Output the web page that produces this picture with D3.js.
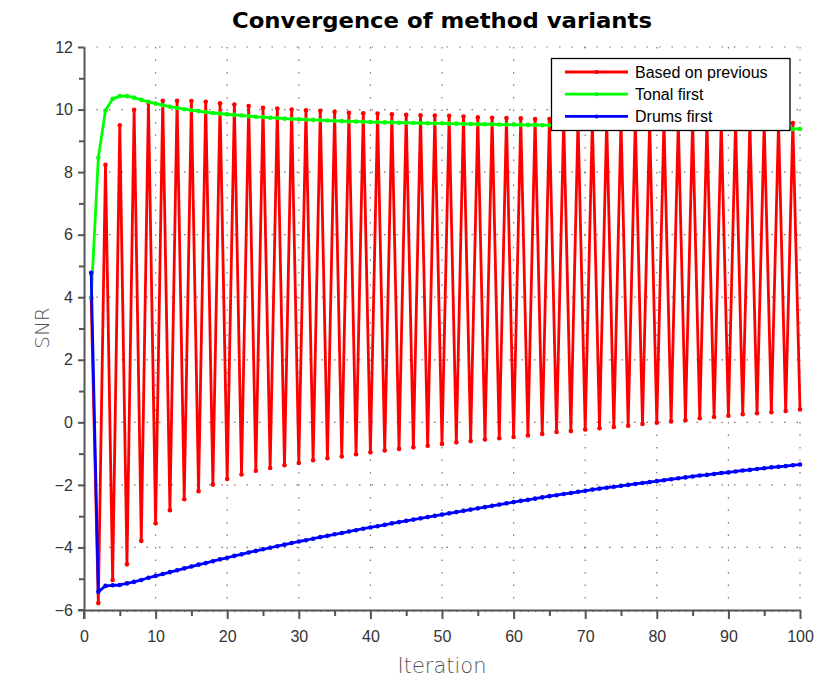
<!DOCTYPE html>
<html><head><meta charset="utf-8">
<script src="https://cdn.jsdelivr.net/npm/d3@7"></script>
<style>
body{margin:0;background:#fff;}
svg{display:block;}
</style></head>
<body>
<svg id="chart" width="818" height="682"></svg>
<script>
const iterations = d3.range(1, 101);
const seriesNames = ["Based on previous", "Tonal first", "Drums first"];
const seriesColors = ["#ff0000", "#00ff00", "#0000ff"];
const basedOnPrevious = [
 3.98,-5.78,8.23,-5.04,9.50,-4.54,9.99,-3.79,10.21,-3.23,
 10.28,-2.81,10.28,-2.46,10.27,-2.20,10.25,-1.99,10.20,-1.81,
 10.16,-1.67,10.11,-1.55,10.06,-1.46,10.03,-1.37,10.00,-1.30,
 9.98,-1.21,9.96,-1.15,9.93,-1.09,9.90,-1.02,9.88,-0.96,
 9.87,-0.90,9.85,-0.85,9.83,-0.80,9.82,-0.75,9.81,-0.69,
 9.80,-0.64,9.78,-0.60,9.75,-0.55,9.74,-0.51,9.73,-0.47,
 9.72,-0.42,9.70,-0.37,9.70,-0.31,9.69,-0.28,9.68,-0.23,
 9.67,-0.19,9.66,-0.15,9.65,-0.11,9.64,-0.05,9.63,-0.01,
 9.63,0.03,9.62,0.07,9.61,0.13,9.61,0.17,9.60,0.21,
 9.60,0.26,9.59,0.29,9.58,0.32,9.58,0.36,9.57,0.41];
const tonalFirst = [
 3.98,8.46,9.97,10.34,10.43,10.43,10.38,10.31,10.25,10.19,
 10.14,10.09,10.05,10.01,9.98,9.95,9.92,9.89,9.87,9.85,
 9.83,9.81,9.79,9.77,9.76,9.74,9.73,9.71,9.70,9.69,
 9.68,9.67,9.66,9.65,9.64,9.63,9.62,9.62,9.61,9.60,
 9.60,9.59,9.59,9.58,9.58,9.57,9.57,9.56,9.56,9.56,
 9.55,9.55,9.54,9.54,9.53,9.53,9.53,9.52,9.52,9.52,
 9.51,9.51,9.51,9.50,9.50,9.50,9.49,9.49,9.49,9.48,
 9.48,9.48,9.47,9.47,9.47,9.46,9.46,9.46,9.45,9.45,
 9.45,9.44,9.44,9.44,9.43,9.43,9.43,9.42,9.42,9.42,
 9.41,9.41,9.41,9.40,9.40,9.40,9.39,9.39,9.38,9.38];
const drumsFirst = [
 4.78,-5.42,-5.23,-5.21,-5.20,-5.15,-5.10,-5.04,-4.97,-4.91,
 -4.85,-4.79,-4.73,-4.67,-4.61,-4.55,-4.50,-4.44,-4.38,-4.33,
 -4.27,-4.22,-4.16,-4.11,-4.06,-4.01,-3.96,-3.91,-3.86,-3.81,
 -3.77,-3.72,-3.67,-3.63,-3.58,-3.54,-3.49,-3.45,-3.40,-3.36,
 -3.32,-3.28,-3.23,-3.19,-3.15,-3.11,-3.07,-3.03,-2.99,-2.95,
 -2.91,-2.87,-2.83,-2.79,-2.75,-2.71,-2.67,-2.63,-2.59,-2.55,
 -2.51,-2.48,-2.44,-2.40,-2.36,-2.33,-2.29,-2.26,-2.22,-2.19,
 -2.15,-2.12,-2.09,-2.06,-2.03,-2.00,-1.97,-1.94,-1.91,-1.88,
 -1.85,-1.82,-1.79,-1.76,-1.73,-1.70,-1.68,-1.65,-1.62,-1.60,
 -1.57,-1.54,-1.52,-1.49,-1.47,-1.44,-1.42,-1.40,-1.37,-1.35];
const xTicks = [0,10,20,30,40,50,60,70,80,90,100];
const yTicks = [-6,-4,-2,0,2,4,6,8,10,12];
const titleText = "Convergence of method variants";
const xLabel = "Iteration";
const yLabel = "SNR";

(function () {
const svg = d3.select("#chart");
const pLeft = 84, pRight = 800, pTop = 47, pBottom = 610;
const x = d3.scaleLinear().domain([0, 100]).range([pLeft, pRight]);
const y = d3.scaleLinear().domain([-6, 12]).range([pBottom, pTop]);
const axisColor = "#555";
const tickFont = "'Liberation Sans', Arial, sans-serif";

// grid
const grid = svg.append("g");
grid.selectAll(".gy").data(yTicks.filter(d => d > -6)).enter().append("line")
  .attr("x1", pLeft).attr("x2", pRight)
  .attr("y1", d => y(d)).attr("y2", d => y(d))
  .attr("stroke", "#777").attr("stroke-width", 1.2)
  .attr("stroke-dasharray", "1.5,11");
grid.selectAll(".gx").data(xTicks.filter(d => d > 0)).enter().append("line")
  .attr("x1", d => x(d)).attr("x2", d => x(d))
  .attr("y1", pTop).attr("y2", pBottom)
  .attr("stroke", "#777").attr("stroke-width", 1.2)
  .attr("stroke-dasharray", "1.5,11");

// axes
const xAxis = d3.axisBottom(x).tickValues(xTicks).tickSize(9).tickSizeOuter(0).tickPadding(12);
const gx = svg.append("g").attr("transform", `translate(0,${pBottom})`).call(xAxis);
const xMinor = d3.axisBottom(x).tickValues(d3.range(5, 100, 10)).tickSize(6).tickFormat("");
const gxm = svg.append("g").attr("transform", `translate(0,${pBottom})`).call(xMinor);
const xMinor2 = d3.axisBottom(x).tickValues(d3.range(1, 100)).tickSize(2).tickFormat("");
const gxm2 = svg.append("g").attr("transform", `translate(0,${pBottom})`).call(xMinor2);
const yAxis = d3.axisLeft(y).tickValues(yTicks).tickSize(6).tickSizeOuter(0).tickPadding(5);
const gy = svg.append("g").attr("transform", `translate(${pLeft},0)`).call(yAxis);
const yMinor = d3.axisLeft(y).tickValues(d3.range(-5, 12, 2)).tickSize(5).tickFormat("");
const gym = svg.append("g").attr("transform", `translate(${pLeft},0)`).call(yMinor);
[gxm, gxm2, gym].forEach(g => g.select(".domain").remove());
[gx, gy, gxm, gxm2, gym].forEach(g => {
  g.selectAll("line").attr("stroke", axisColor).attr("stroke-width", 2);
  g.select(".domain").attr("stroke", axisColor).attr("stroke-width", 2);
  g.selectAll("text").attr("fill", "#333").style("font-family", tickFont).style("font-size", "16px");
});
gxm2.selectAll("line").attr("stroke-width", 1);
svg.append("line").attr("x1", pLeft).attr("x2", pLeft).attr("y1", pBottom).attr("y2", pBottom + 9)
  .attr("stroke", axisColor).attr("stroke-width", 2);
svg.append("line").attr("x1", pLeft - 6).attr("x2", pLeft).attr("y1", pBottom).attr("y2", pBottom)
  .attr("stroke", axisColor).attr("stroke-width", 2);

// series
const allSeries = [basedOnPrevious, tonalFirst, drumsFirst];
const line = d3.line().x((d, i) => x(iterations[i])).y(d => y(d));
allSeries.forEach((vals, k) => {
  const g = svg.append("g");
  g.append("path").datum(vals).attr("d", line)
    .attr("fill", "none").attr("stroke", seriesColors[k])
    .attr("stroke-width", 2.8).attr("stroke-linejoin", "round").attr("stroke-linecap", "round");
  g.selectAll("circle").data(vals).enter().append("circle")
    .attr("cx", (d, i) => x(iterations[i])).attr("cy", d => y(d))
    .attr("r", 2.3).attr("fill", seriesColors[k]);
});

// legend
const lg = svg.append("g");
lg.append("rect").attr("x", 551.5).attr("y", 58.5).attr("width", 238.5).attr("height", 72)
  .attr("fill", "#fff").attr("stroke", "#000").attr("stroke-width", 1.3);
seriesNames.forEach((name, k) => {
  const yy = 72 + k * 22.2;
  lg.append("line").attr("x1", 565).attr("x2", 628).attr("y1", yy).attr("y2", yy)
    .attr("stroke", seriesColors[k]).attr("stroke-width", 2.8);
  lg.append("circle").attr("cx", 596.5).attr("cy", yy).attr("r", 2).attr("fill", seriesColors[k]);
  lg.append("text").attr("x", 635).attr("y", yy + 5.5).text(name)
    .style("font-family", tickFont).style("font-size", "16px").attr("fill", "#000");
});

// title and labels
svg.append("text").attr("x", 442).attr("y", 28).attr("text-anchor", "middle")
  .text(titleText).style("font-family", "'DejaVu Sans', sans-serif").style("font-weight", "bold")
  .style("font-size", "22px").attr("textLength", 420).attr("lengthAdjust", "spacingAndGlyphs").attr("fill", "#000");
svg.append("text").attr("x", 442).attr("y", 673).attr("text-anchor", "middle")
  .text(xLabel).style("font-family", "'DejaVu Sans', sans-serif").style("font-weight", "300")
  .style("font-size", "21px").attr("fill", "#555");
svg.append("text").attr("transform", `translate(49,328) rotate(-90)`).attr("text-anchor", "middle")
  .text(yLabel).style("font-family", "'DejaVu Sans', sans-serif").style("font-weight", "300")
  .style("font-size", "20px").attr("fill", "#555");
})();
</script>
</body></html>
